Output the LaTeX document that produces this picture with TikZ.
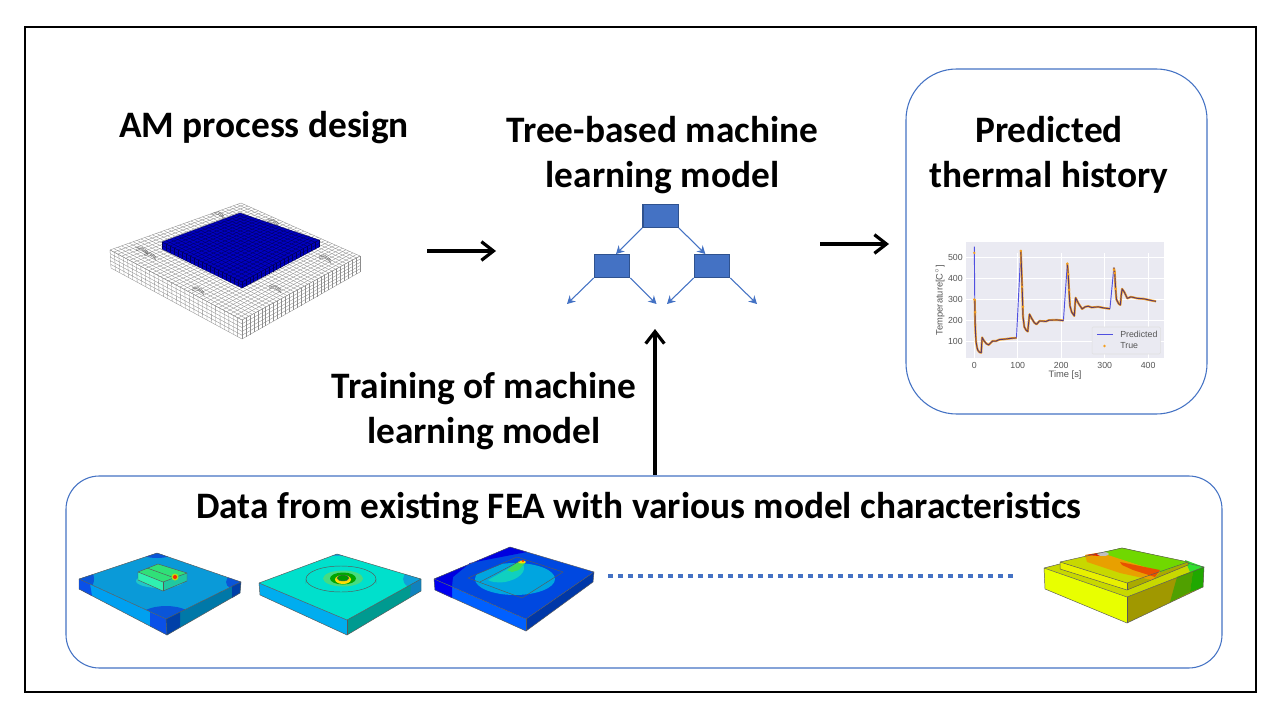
\documentclass[tikz,border=0pt]{standalone}
\usepackage{fontspec}
\setmainfont{Carlito}
\newfontfamily\plotfont{Liberation Sans}
\usetikzlibrary{arrows.meta,calc}

\definecolor{boxblue}{HTML}{4472C4}
\definecolor{boxedge}{HTML}{2F528F}
\definecolor{axisbg}{HTML}{EAEAF2}
\definecolor{plotgray}{HTML}{555555}
\definecolor{meshblue}{HTML}{0000C0}
\definecolor{spikeblue}{HTML}{5050E0}
\definecolor{tracedark}{HTML}{5A3A6A}
\definecolor{dotorange}{HTML}{F5A020}
% contour colours of the models
\definecolor{feaA}{HTML}{0A9AD8}
\definecolor{feaB}{HTML}{0A55D8}
\definecolor{feaC}{HTML}{20C8C8}
\definecolor{feaD}{HTML}{00A0F0}
\definecolor{feaE}{HTML}{0A50E8}
\definecolor{feaF}{HTML}{0078A8}
\definecolor{feaG}{HTML}{0040A8}
\definecolor{feaH}{HTML}{30E078}
\definecolor{feaI}{HTML}{30F0B0}
\definecolor{feaJ}{HTML}{20C8A0}
\definecolor{feaK}{HTML}{00E0CC}
\definecolor{feaL}{HTML}{10A0D8}
\definecolor{feaM}{HTML}{009A90}
\definecolor{feaN}{HTML}{1082BE}
\definecolor{feaO}{HTML}{46DC82}
\definecolor{feaP}{HTML}{0048E0}
\definecolor{feaQ}{HTML}{0000E0}
\definecolor{feaR}{HTML}{0060FF}
\definecolor{feaS}{HTML}{0000F0}
\definecolor{feaT}{HTML}{0038A8}
\definecolor{feaU}{HTML}{00A5E0}
\definecolor{feaV}{HTML}{10D0C0}
\definecolor{feaW}{HTML}{3CDC5A}
\definecolor{hotA}{HTML}{C8D800}
\definecolor{hotB}{HTML}{30E030}
\definecolor{hotC}{HTML}{E8FF00}
\definecolor{hotD}{HTML}{A09800}
\definecolor{hotE}{HTML}{50A000}
\definecolor{hotF}{HTML}{20A800}
\definecolor{hotG}{HTML}{E8F000}
\definecolor{hotH}{HTML}{AAAA00}
\definecolor{hotI}{HTML}{70D800}
\definecolor{hotJ}{HTML}{E8A000}
\definecolor{hotK}{HTML}{E85000}
\definecolor{hotL}{HTML}{E61E00}

\tikzset{
  heading/.style={font=\fontsize{28}{33.75}\selectfont\bfseries, align=center, inner sep=0pt},
  treebox/.style={draw=boxedge, line width=1pt, fill=boxblue, minimum width=26.5pt, minimum height=17pt, inner sep=0pt},
  treelink/.style={draw=boxblue, line width=0.8pt, -{Stealth[length=6pt,width=6.5pt]}},
  bigarrow/.style={draw=black, line width=2.4pt, -{Straight Barb[length=9pt,width=14pt,line width=2.4pt]}},
  panel/.style={draw=boxblue, line width=0.8pt, fill=white},
  feaedge/.style={draw=black!65, line width=0.35pt},
  tick label/.style={font=\plotfont\fontsize{6.6}{7}\selectfont, text=plotgray, inner sep=0pt},
  axis label/.style={font=\plotfont\fontsize{7}{7}\selectfont, text=plotgray, inner sep=0pt}
}

% grid on a four-cornered face: corners a b c d, then cells along ab and bc
\newcommand{\meshface}[6]{
  \foreach \i in {0,...,#5} {
    \pgfmathsetmacro{\f}{\i/#5}
    \draw ($(#1)!\f!(#2)$) -- ($(#4)!\f!(#3)$);
  }
  \foreach \j in {0,...,#6} {
    \pgfmathsetmacro{\f}{\j/#6}
    \draw ($(#1)!\f!(#4)$) -- ($(#2)!\f!(#3)$);
  }
}

\begin{document}
\begin{tikzpicture}[x=0.75pt, y=-0.75pt]
  \useasboundingbox (0,0) rectangle (1280,720);
  \fill[white] (0,0) rectangle (1280,720);
  \draw[line width=2.2pt] (25,27) rectangle (1256,692);

  \draw[panel, rounded corners=38pt] (906,69) rectangle (1207,414);
  \draw[panel, rounded corners=25pt] (66,476) rectangle (1222,668);

  \node[heading] (design) at (264,128) {AM process design};
  \node[heading] (treetitle) at (662.5,155) {Tree-based machine\\learning model};
  \node[heading] (history) at (1049,155) {Predicted\\thermal history};
  \node[heading] (training) at (484,411) {Training of machine\\learning model};
  \node[heading] (data) at (639,509) {Data from existing FEA with various model characteristics};

  % mesh of the plate
  \coordinate (pb) at (241,203);
  \coordinate (pl) at (110,250);
  \coordinate (pf) at (242,320);
  \coordinate (pr) at (360,256);
  \coordinate (plb) at (111,268);
  \coordinate (pfb) at (242,339);
  \coordinate (prb) at (360,272);
  \begin{scope}[draw=black!45, line width=0.25pt]
    \meshface{pl}{pb}{pr}{pf}{34}{34}
    \meshface{pl}{pf}{pfb}{plb}{30}{5}
    \meshface{pf}{pr}{prb}{pfb}{30}{5}
    \begin{scope}
      \clip (pb) -- (pr) -- (pf) -- (pl) -- cycle;
      \foreach \cx/\cy in {150/255,198/290,275/288,312/240,325/258,218/214,273/222,142/250} {
        \foreach \d in {0,1.5,3} {
          \draw[black!60] (\cx-6,\cy-2+\d) .. controls (\cx-2,\cy-5+\d) and (\cx+2,\cy-2+\d) .. (\cx+6,\cy+2+\d);
        }
      }
    \end{scope}
  \end{scope}

  % blue block on the plate
  \coordinate (bb) at (240,213);
  \coordinate (bl) at (162,242);
  \coordinate (bf) at (242,282);
  \coordinate (br) at (319,240);
  \coordinate (blb) at (162,249);
  \coordinate (bfb) at (242,288);
  \coordinate (brb) at (319,247);
  \fill[meshblue] (bb) -- (br) -- (brb) -- (bfb) -- (blb) -- (bl) -- cycle;
  \begin{scope}[draw=blue!35!black, line width=0.25pt]
    \meshface{bl}{bb}{br}{bf}{20}{20}
    \meshface{bl}{bf}{bfb}{blb}{20}{2}
    \meshface{bf}{br}{brb}{bfb}{20}{2}
  \end{scope}

  \draw[bigarrow] (427,251) -- (496,251);
  \draw[bigarrow] (820,244) -- (889,244);

  % tree
  \node[treebox] (root) at (660.5,216) {};
  \node[treebox] (leftbox) at (612,266) {};
  \node[treebox] (rightbox) at (712,266) {};
  \coordinate (leafa) at (567,304);
  \coordinate (leafb) at (656.5,304);
  \coordinate (leafc) at (667,304);
  \coordinate (leafd) at (757,304);
  \draw[treelink] (root.south west) -- ([xshift=3pt]leftbox.north);
  \draw[treelink] (root.south east) -- ([xshift=-5pt]rightbox.north);
  \draw[treelink] (leftbox.south west) -- (leafa);
  \draw[treelink] (leftbox.south east) -- (leafb);
  \draw[treelink] (rightbox.south west) -- (leafc);
  \draw[treelink] (rightbox.south east) -- (leafd);

  \coordinate (dataout) at (655,475);
  \coordinate (datain) at (655,329);
  \draw[bigarrow] (dataout) -- (datain);

  % thermal history plot
  \fill[axisbg] (966,242) rectangle (1164,358);
  \begin{scope}[shift={(974.3,362.8)}, x=0.326pt, y=0.1584pt]
    \foreach \t in {0,100,200,300,400} {
      \draw[white, line width=0.5pt] (\t,-24) -- (\t,522);
      \node[tick label] at (\t,-11) {\t};
    }
    \foreach \T in {100,200,300,400,500} {
      \draw[white, line width=0.5pt] (-19,\T) -- (436,\T);
      \node[tick label, anchor=east] at (-26,\T) {\T};
    }
    \def\thermala{(1,300)(1.5,240)(2,185)(3,130)(4,100)(6,75)(8,60)(12,50)(16,48)(17,90)(18,120)(22,105)(28,90)(33,85)(38,95)(42,103)(50,103)(58,110)(70,112)(85,116)(97,118)}
    \def\thermalb{(107,530)(110,360)(112,220)(115,170)(119,155)(123,148)(125,190)(127,230)(132,210)(138,190)(143,182)(150,198)(158,197)(165,196)(172,202)(190,203)(205,200)}
    \def\thermalc{(214,470)(216,420)(218,340)(220,270)(224,240)(230,222)(232,280)(233,308)(240,280)(248,255)(255,265)(262,268)(270,262)(285,265)(300,259)(312,256)}
    \def\thermald{(321,450)(323,430)(325,350)(327,300)(332,280)(336,274)(338,320)(340,350)(345,335)(352,305)(360,312)(365,310)(375,305)(390,303)(405,296)(418,291)}
    \draw[spikeblue, line width=0.7pt, line join=round] plot coordinates {(0,550)(1,300)\thermala\thermalb\thermalc\thermald};
    \draw[dotorange, line width=1.6pt, line join=round] plot coordinates {\thermala};
    \draw[dotorange, line width=1.6pt, line join=round] plot coordinates {\thermalb};
    \draw[dotorange, line width=1.6pt, line join=round] plot coordinates {\thermalc};
    \draw[dotorange, line width=1.6pt, line join=round] plot coordinates {\thermald};
    \draw[tracedark, line width=0.7pt, line join=round] plot coordinates {\thermala};
    \draw[tracedark, line width=0.7pt, line join=round] plot coordinates {\thermalb};
    \draw[tracedark, line width=0.7pt, line join=round] plot coordinates {\thermalc};
    \draw[tracedark, line width=0.7pt, line join=round] plot coordinates {\thermald};
    \foreach \t/\T in {0/520,0/300,2/240,107/530,110/360,112/265,214/470,216/420,218/345,321/440,323/425,325/350} {
      \fill[dotorange] (\t,\T) circle (1pt);
    }
    \node[axis label] (timelabel) at (209,-58) {Time [s]};
    \node[axis label, rotate=90] (templabel) at (-79,297) {Temperature[C$^\circ$]};
  \end{scope}
  \draw[black!12, fill=axisbg, line width=0.4pt, rounded corners=1pt] (1092,327) rectangle (1160.5,354);
  \draw[spikeblue, line width=0.7pt] (1097,334) -- (1113,334);
  \fill[dotorange] (1104.5,346) circle (1pt);
  \node[tick label, anchor=west] (predictedlabel) at (1120,334) {Predicted};
  \node[tick label, anchor=west] (truelabel) at (1120,346) {True};

  % first model
  \fill[feaA] (157,553) -- (241,582) -- (166,619) -- (79,579) -- cycle;
  \begin{scope}
    \clip (157,553) -- (241,582) -- (166,619) -- (79,579) -- cycle;
    \fill[feaB] (79,579) circle (15);
    \fill[feaB] (157,553) ellipse (16 and 5);
    \fill[feaB] (241,582) ellipse (15 and 9);
    \fill[feaB] (166,619) ellipse (28 and 13);
    \fill[feaC] (160,581) ellipse (24 and 7);
  \end{scope}
  \fill[feaD] (79,579) -- (166,619) -- (167,635) -- (79,589) -- cycle;
  \fill[feaE] (79,579) -- (90,584) -- (92,596) -- (79,589) -- cycle;
  \fill[feaE] (150,612) -- (166,619) -- (167,635) -- (150,626) -- cycle;
  \fill[feaF] (166,619) -- (241,582) -- (240,593) -- (167,635) -- cycle;
  \fill[feaG] (166,619) -- (180,612) -- (180,627) -- (167,635) -- cycle;
  \fill[feaG] (232,586) -- (241,582) -- (240,593) -- (232,598) -- cycle;
  \draw[feaedge] (157,553) -- (241,582) -- (240,593) -- (167,635) -- (79,589) -- (79,579) -- cycle;
  \draw[feaedge] (79,579) -- (166,619) -- (241,582);
  \draw[feaedge] (166,619) -- (167,635);
  \fill[feaH] (138,572) -- (158,564) -- (187,573) -- (163,582) -- cycle;
  \fill[feaI] (138,572) -- (163,582) -- (163,591) -- (138,580) -- cycle;
  \fill[feaJ] (163,582) -- (187,573) -- (187,581) -- (163,591) -- cycle;
  \draw[feaedge] (138,572) -- (158,564) -- (187,573) -- (187,581) -- (163,591) -- (138,580) -- cycle;
  \draw[feaedge] (138,572) -- (163,582) -- (187,573);
  \draw[feaedge] (163,582) -- (163,591);
  \draw[feaedge] (147,568) -- (172,577);
  \fill[yellow!70!green] (175,577) circle (3.5);
  \fill[red!70!orange] (175,577) circle (2);

  % second model
  \fill[feaK] (337,554) -- (421,579) -- (347,620) -- (259,583) -- cycle;
  \begin{scope}
    \clip (337,554) -- (421,579) -- (347,620) -- (259,583) -- cycle;
    \fill[feaL] (421,579) ellipse (18 and 11);
    \fill[feaL] (337,554) ellipse (12 and 2);
  \end{scope}
  \fill[cyan] (259,583) -- (347,620) -- (347,635) -- (260,595) -- cycle;
  \fill[feaM] (347,620) -- (421,579) -- (421,591) -- (347,635) -- cycle;
  \fill[feaN] (411,584.5) -- (421,579) -- (421,591) -- (410,597) -- cycle;
  \draw[feaedge] (337,554) -- (421,579) -- (421,591) -- (347,635) -- (260,595) -- (259,583) -- cycle;
  \draw[feaedge] (259,583) -- (347,620) -- (421,579);
  \draw[feaedge] (347,620) -- (347,635);
  \draw[feaedge] (306,579) -- (306,582) arc (180:360:35 and 13) -- (376,579);
  \draw[feaedge, fill=feaK] (341,579) ellipse (35 and 13);
  \fill[feaO] (343,578.5) ellipse (20 and 8);
  \fill[green!65!black] (343,578.5) ellipse (13 and 6);
  \fill[yellow!80!orange] (343,579.5) ellipse (8 and 4.5);
  \draw[feaedge, fill=green!60!black] (343,578) ellipse (6 and 3);

  % third model
  \fill[feaP] (510,547) -- (594,572) -- (526,619) -- (434,579) -- cycle;
  \fill[feaQ] (434,579) -- (510,547) -- (527,552) -- (470,563) -- (453,577) -- (452,586) -- cycle;
  \fill[feaR] (434,579) -- (526,619) -- (526,631) -- (435,590) -- cycle;
  \fill[feaS] (434,579) -- (452,587) -- (452,598) -- (435,590) -- cycle;
  \fill[feaT] (526,619) -- (594,572) -- (593,582) -- (526,631) -- cycle;
  \begin{scope}
    \clip (475,575) -- (517,558) -- (570,570) -- (570,600) -- (470,600) -- cycle;
    \fill[feaU] (515,579) ellipse (40 and 16);
  \end{scope}
  \fill[feaV] (488,580) -- (520,562) .. controls (528,566) and (525,578) .. (505,582) .. controls (497,583) and (491,582) .. cycle;
  \fill[feaW] (507,570) -- (518,562) -- (525,563) -- (519,570) -- (512,572) -- cycle;
  \fill[yellow!80!orange] (522,562) ellipse (4 and 1.5);
  \fill[red!70!orange] (523,561) circle (1.2);
  \draw[feaedge] (510,547) -- (594,572) -- (593,582) -- (526,631) -- (435,590) -- (434,579) -- cycle;
  \draw[feaedge] (434,579) -- (526,619) -- (594,572);
  \draw[feaedge] (526,619) -- (526,631);
  \draw[feaedge] (468,578) -- (517,557) -- (563,572) -- (522,598) -- cycle;
  \draw[feaedge] (480,582) -- (520,561);

  \draw[draw=boxblue, line width=3.6pt, dash pattern=on 3.75pt off 3.75pt] (608,576) -- (1014,576);

  % fourth model
  \fill[hotA] (1044,568) -- (1122,548) -- (1204,567) -- (1127,597) -- cycle;
  \fill[hotB] (1185,560) -- (1204,567) -- (1190,572) -- cycle;
  \fill[hotC] (1044,568) -- (1127,597) -- (1127,623) -- (1045,589) -- cycle;
  \fill[hotD] (1127,597) -- (1204,567) -- (1203,587) -- (1127,623) -- cycle;
  \fill[hotE] (1177,577) -- (1193,571) -- (1190,592) -- (1170,602) -- cycle;
  \fill[hotF] (1193,571) -- (1204,567) -- (1203,587) -- (1190,592) -- cycle;
  \draw[feaedge] (1044,568) -- (1122,548) -- (1204,567) -- (1203,587) -- (1127,623) -- (1045,589) -- cycle;
  \draw[feaedge] (1044,568) -- (1127,597) -- (1204,567);
  \draw[feaedge] (1127,597) -- (1127,623);
  \fill[hotG] (1060,562) -- (1127,583) -- (1127,590) -- (1060,569) -- cycle;
  \fill[hotH] (1127,583) -- (1188,562) -- (1188,565) -- (1127,590) -- cycle;
  \fill[hotA] (1060,562) -- (1122,548) -- (1188,562) -- (1127,583) -- cycle;
  \fill[hotI] (1098,553) -- (1122,548) -- (1188,562) -- (1162,572) -- cycle;
  \fill[hotJ] (1085,555) -- (1100,552.5) -- (1160,572) -- (1152,580) -- (1120,573) -- (1087,562) -- cycle;
  \fill[hotK] (1120,562) -- (1160,570) -- (1155,577) -- (1133,570) -- (1122,565) -- cycle;
  \fill[hotL] (1086,555) -- (1098,553) -- (1100,556) -- cycle;
  \fill[black!25] (1103,554) ellipse (6 and 2);
  \draw[feaedge] (1060,562) -- (1122,548) -- (1188,562) -- (1188,565) -- (1127,590) -- (1060,569) -- cycle;
  \draw[feaedge] (1060,562) -- (1127,583) -- (1188,562);
  \draw[feaedge] (1127,583) -- (1127,590);
\end{tikzpicture}
\end{document}
